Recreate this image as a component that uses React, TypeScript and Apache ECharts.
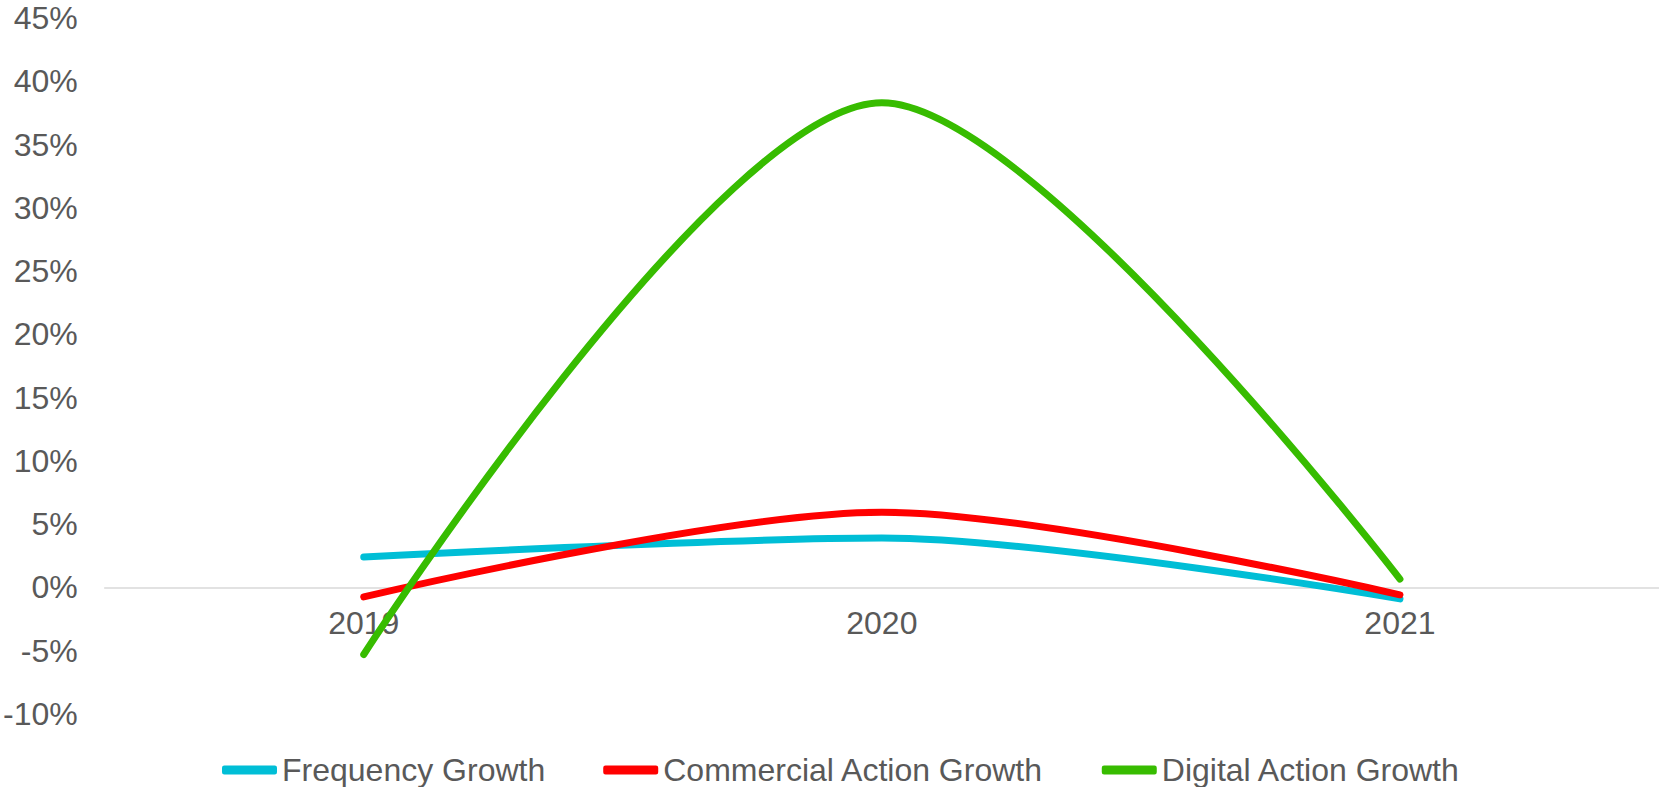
import React, { useEffect, useRef } from "react";
import * as echarts from "echarts";

const categories = ["2019", "2020", "2021"];
const frequencyGrowth = [2.4, 3.9, -0.9];
const commercialActionGrowth = [-0.75, 5.95, -0.58];
const digitalActionGrowth = [-5.3, 38.3, 0.66];
const seriesNames = ["Frequency Growth", "Commercial Action Growth", "Digital Action Growth"];
const seriesColors = ["#00BED6", "#FF0000", "#37BC00"];

export default function App() {
  const ref = useRef<HTMLDivElement>(null);
  useEffect(() => {
    if (!ref.current) return;
    const chart = echarts.init(ref.current, undefined, { renderer: "svg" });
    const font = "'Liberation Sans', Arial, sans-serif";
    const dataSets = [frequencyGrowth, commercialActionGrowth, digitalActionGrowth];
    const gridTop = 18;
    const gridBottom = 73;
    const yMin = -10;
    const yMax = 45;
    const plotH = 787 - gridTop - gridBottom;
    const zeroOffset = (plotH * (0 - yMin)) / (yMax - yMin);
    chart.setOption({
      animation: false,
      backgroundColor: "#ffffff",
      grid: { left: 103, right: -3, top: gridTop, bottom: gridBottom, containLabel: false },
      legend: {
        left: 217,
        top: 749,
        itemGap: 58,
        itemWidth: 55,
        itemHeight: 9,
        icon: "roundRect",
        textStyle: { fontFamily: font, fontSize: 32, color: "#595959" },
        data: seriesNames,
      },
      xAxis: {
        type: "category",
        data: categories,
        boundaryGap: true,
        position: "bottom",
        offset: -zeroOffset,
        axisTick: { show: false },
        axisLine: { show: true, onZero: false, lineStyle: { color: "#D9D9D9", width: 1.5 } },
        axisLabel: { fontFamily: font, fontSize: 32, color: "#595959", margin: 20 },
        splitLine: { show: false },
      },
      yAxis: {
        type: "value",
        min: yMin,
        max: yMax,
        interval: 5,
        axisLine: { show: false },
        axisTick: { show: false },
        splitLine: { show: false },
        axisLabel: {
          fontFamily: font,
          fontSize: 32,
          color: "#595959",
          margin: 27,
          formatter: "{value}%",
        },
      },
      series: seriesNames.map((name, i) => ({
        name,
        type: "line",
        data: dataSets[i],
        smooth: 0.3,
        symbol: "none",
        lineStyle: { color: seriesColors[i], width: 7, cap: "round" },
        itemStyle: { color: seriesColors[i] },
      })),
    });
    return () => chart.dispose();
  }, []);
  return (
    <div
      ref={ref}
      style={{ position: "absolute", left: 0, top: 0, width: 1659, height: 787 }}
    />
  );
}
